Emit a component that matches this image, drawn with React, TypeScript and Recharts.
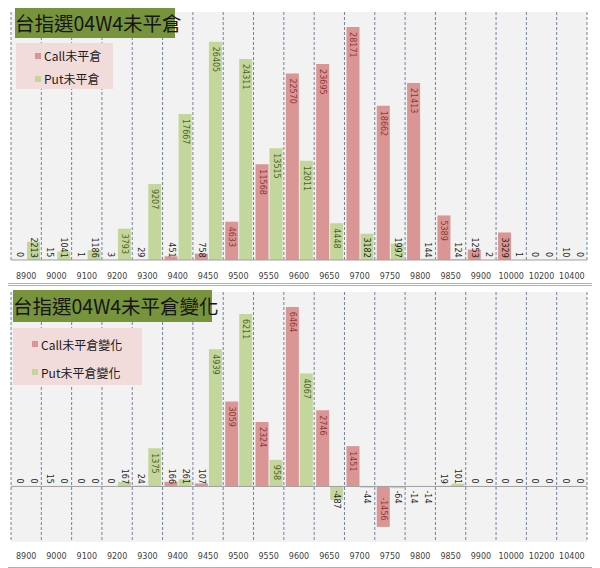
import React from "react";
import {
  BarChart,
  Bar,
  XAxis,
  YAxis,
  CartesianGrid,
  ReferenceLine,
  Legend,
  LabelList,
} from "recharts";

// strike prices
const strikes = [
  "8900", "9000", "9100", "9200", "9300", "9400", "9450", "9500", "9550", "9600",
  "9650", "9700", "9750", "9800", "9850", "9900", "10000", "10200", "10400",
];
// open interest
const callOI = [0, 15, 1, 3, 29, 451, 758, 4633, 11568, 22570, 23695, 28171, 18662, 21413, 5389, 1253, 3329, 0, 10];
const putOI = [2213, 1041, 1186, 3793, 9207, 17667, 26405, 24311, 13515, 12011, 4448, 3182, 1997, 144, 124, 2, 1, 0, 0];
// change in open interest
const callChg = [0, 15, 0, 0, 24, 166, 107, 3059, 2324, 6464, 2746, 1451, -1456, -14, 19, 0, 0, 0, 0];
const putChg = [0, 0, 0, 167, 1375, 261, 4939, 6211, 958, 4067, -487, -44, -64, -14, 101, 0, 0, 0, 0];

const CALL = "#d99694";
const PUT = "#c3d69b";
const NUM_FONT = "DejaVu Sans";
const CJK_FONT = "'Noto Sans CJK TC', 'Noto Sans CJK SC', sans-serif";

const oiData = strikes.map((s, i) => ({ strike: s, call: callOI[i], put: putOI[i] }));
const chgData = strikes.map((s, i) => ({ strike: s, call: callChg[i], put: putChg[i] }));

const makeLabel = (insideColor: string) => (props: any) => {
  const { x, y, width, height, value } = props;
  if (value === null || value === undefined) return null;
  const top = Math.min(y, y + height);
  const bot = Math.max(y, y + height);
  const h = bot - top;
  const txt = String(value);
  const len = txt.length * 4.9;
  const cx = x + width / 2;
  let start: number;
  let fill: string;
  if (h >= len + 9) {
    start = value >= 0 ? top + 5 : bot - 5 - len;
    fill = insideColor;
  } else {
    start = value >= 0 ? bot - 3 - len : top + 4;
    fill = "#262626";
  }
  return (
    <text
      x={cx}
      y={start}
      transform={`rotate(90 ${cx} ${start})`}
      textAnchor="start"
      dominantBaseline="central"
      fontSize={8}
      fontFamily={NUM_FONT}
      fill={fill}
    >
      {txt}
    </text>
  );
};

const makeTick = (dy: number) => (props: any) => (
  <text
    x={props.x}
    y={props.y + dy}
    textAnchor="middle"
    dominantBaseline="central"
    fontSize={8}
    fontFamily={NUM_FONT}
    fill="#404040"
  >
    {props.payload.value}
  </text>
);

// dashed lines sit on the category borders, not on the ticks
const borderLines = (margin: any, w: number) => (p: any) => {
  const left = p?.offset?.left ?? margin.left;
  const width = p?.offset?.width ?? w - margin.left - margin.right;
  const n = strikes.length;
  return Array.from({ length: n + 1 }, (_, i) => left + (i * width) / n);
};

const LegendBox = ({ payload, w, h, itemH, padTop }: any) => (
  <div
    style={{
      width: w,
      height: h,
      background: "#f2dcdb",
      boxSizing: "border-box",
      paddingTop: padTop,
      paddingLeft: 19,
      fontFamily: CJK_FONT,
      fontSize: 12,
      color: "#1a1a1a",
    }}
  >
    {(payload || []).map((p: any) => (
      <div key={p.value} style={{ display: "flex", alignItems: "center", height: itemH }}>
        <span style={{ width: 6, height: 6, background: p.color, marginRight: 3 }} />
        <span>{p.value}</span>
      </div>
    ))}
  </div>
);

const Title = ({ text, left, top, width, height }: any) => (
  <div
    style={{
      position: "absolute",
      left,
      top,
      width,
      height,
      background: "#77933c",
      color: "#151515",
      fontFamily: CJK_FONT,
      fontSize: 19.5,
      lineHeight: `${height}px`,
      textAlign: "center",
      whiteSpace: "nowrap",
    }}
  >
    {text}
  </div>
);

const W = 598;
const topMargin = { top: 12, left: 11, right: 11, bottom: 0 };
const botMargin = { top: 7, left: 11, right: 11, bottom: 0 };

export default function App() {
  return (
    <div style={{ position: "relative", width: 600, height: 568, marginLeft: -8, marginTop: -8, background: "#fff" }}>
      <div style={{ position: "absolute", left: 0, top: 0, width: 597, height: 284, border: "1px solid #b0b0b0", boxSizing: "border-box" }} />
      <div style={{ position: "absolute", left: 0, top: 285, width: 597, height: 283, border: "1px solid #b0b0b0", boxSizing: "border-box" }} />

      <div style={{ position: "absolute", left: 0, top: 0 }}>
        <BarChart width={W} height={284} data={oiData} margin={topMargin} barCategoryGap={2} barGap={1}>
          <CartesianGrid
            horizontal={false}
            fill="#f2f2f2"
            stroke="#72829e"
            strokeDasharray="3 2"
            verticalCoordinatesGenerator={borderLines(topMargin, W)}
          />
          <XAxis dataKey="strike" interval={0} height={24} axisLine={false} tickLine={false} tickSize={0} tickMargin={0} tick={makeTick(16)} />
          <YAxis hide domain={[0, 30000]} />
          <ReferenceLine y={0} stroke="#a0a0a0" />
          <Legend
            layout="vertical"
            align="center"
            verticalAlign="middle"
            wrapperStyle={{ left: 16, top: 43, width: 97, height: 46 }}
            content={(p: any) => <LegendBox payload={p.payload} w={97} h={46} itemH={23} padTop={1} />}
          />
          <Bar dataKey="call" name="Call未平倉" fill={CALL} minPointSize={0.01} isAnimationActive={false}>
            <LabelList dataKey="call" content={makeLabel("#943634")} />
          </Bar>
          <Bar dataKey="put" name="Put未平倉" fill={PUT} minPointSize={0.01} isAnimationActive={false}>
            <LabelList dataKey="put" content={makeLabel("#4f6228")} />
          </Bar>
        </BarChart>
      </div>
      <Title text="台指選04W4未平倉" left={15} top={7} width={160} height={31} />

      <div style={{ position: "absolute", left: 0, top: 285 }}>
        <BarChart width={W} height={283} data={chgData} margin={botMargin} barCategoryGap={2} barGap={1}>
          <CartesianGrid
            horizontal={false}
            fill="#f2f2f2"
            stroke="#72829e"
            strokeDasharray="3 2"
            verticalCoordinatesGenerator={borderLines(botMargin, W)}
          />
          <XAxis dataKey="strike" interval={0} height={26} axisLine={false} tickLine={false} tickSize={0} tickMargin={0} tick={makeTick(14)} />
          <YAxis hide domain={[-2000, 7000]} />
          <ReferenceLine y={0} stroke="#a0a0a0" />
          <Legend
            layout="vertical"
            align="center"
            verticalAlign="middle"
            wrapperStyle={{ left: 13, top: 43, width: 129, height: 57 }}
            content={(p: any) => <LegendBox payload={p.payload} w={129} h={57} itemH={28} padTop={2} />}
          />
          <Bar dataKey="call" name="Call未平倉變化" fill={CALL} minPointSize={0.01} isAnimationActive={false}>
            <LabelList dataKey="call" content={makeLabel("#943634")} />
          </Bar>
          <Bar dataKey="put" name="Put未平倉變化" fill={PUT} minPointSize={0.01} isAnimationActive={false}>
            <LabelList dataKey="put" content={makeLabel("#4f6228")} />
          </Bar>
        </BarChart>
      </div>
      <Title text="台指選04W4未平倉變化" left={13} top={290} width={199} height={32} />
    </div>
  );
}
